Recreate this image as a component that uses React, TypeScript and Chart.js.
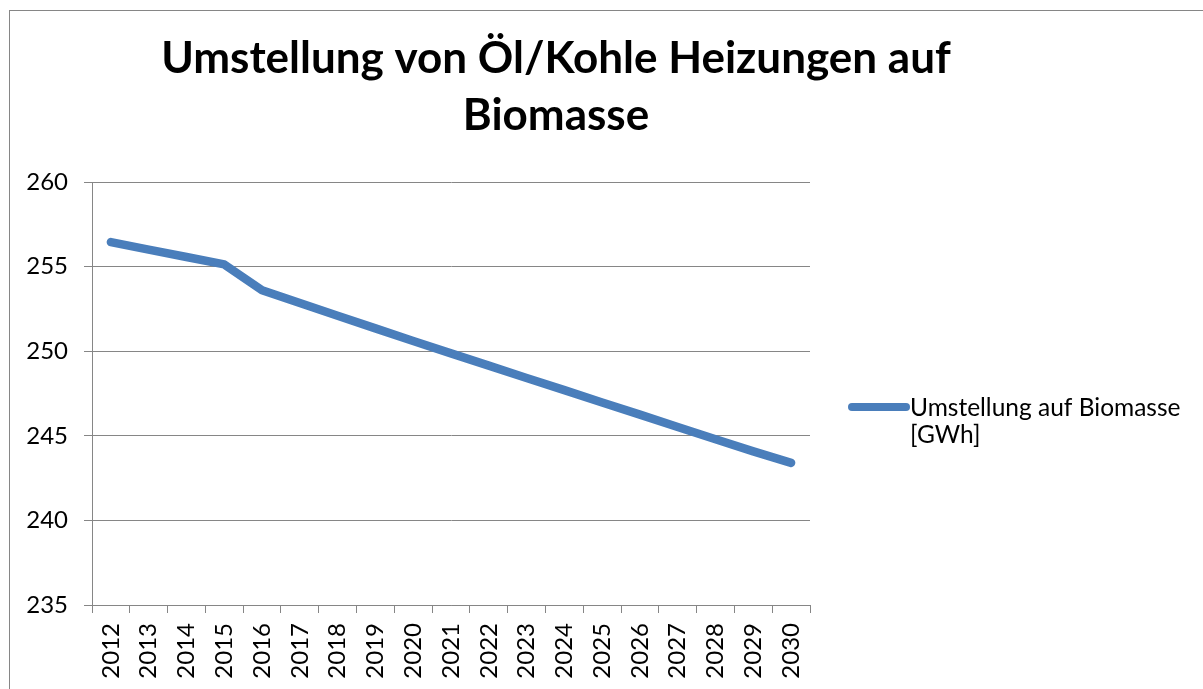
import React, { useEffect, useRef } from "react";
import { Chart, registerables } from "chart.js";

Chart.register(...registerables);

const titleLines = ["Umstellung von Öl/Kohle Heizungen auf", "Biomasse"];
const years = ["2012", "2013", "2014", "2015", "2016", "2017", "2018", "2019", "2020", "2021", "2022", "2023", "2024", "2025", "2026", "2027", "2028", "2029", "2030"];
const seriesLabel = "Umstellung auf Biomasse [GWh]";
const legendLines = ["Umstellung auf Biomasse", "[GWh]"];
const biomasse = [256.45, 256.0, 255.57, 255.13, 253.6, 252.85, 252.1, 251.35, 250.6, 249.87, 249.15, 248.42, 247.7, 246.97, 246.25, 245.52, 244.8, 244.08, 243.4];
const yMin = 235;
const yMax = 260;
const yStep = 5;

const FONT = "Lato";
const LINE_COLOR = "#4A7EBB";
const GRID_COLOR = "#868686";

const overlayPlugin = {
  id: "overlay",
  afterDraw(chart: any) {
    const ctx = chart.ctx;
    ctx.save();
    ctx.fillStyle = "#000";
    ctx.textAlign = "center";
    ctx.textBaseline = "alphabetic";
    ctx.font = `bold 44px ${FONT}`;
    ctx.fillText(titleLines[0], 556, 73);
    ctx.fillText(titleLines[1], 556, 130);

    // legend
    const ds = chart.data.datasets[0];
    ctx.strokeStyle = ds.borderColor;
    ctx.lineWidth = 8;
    ctx.lineCap = "round";
    ctx.beginPath();
    ctx.moveTo(852, 407);
    ctx.lineTo(906, 407);
    ctx.stroke();
    ctx.textAlign = "left";
    ctx.font = `24.5px ${FONT}`;
    ctx.fillText(legendLines[0], 910, 416);
    ctx.fillText(legendLines[1], 910, 443);
    ctx.restore();
  },
};

export default function App() {
  const ref = useRef<HTMLCanvasElement | null>(null);
  useEffect(() => {
    if (!ref.current) return;
    const chart = new Chart(ref.current, {
      type: "line",
      data: {
        labels: years,
        datasets: [
          {
            label: seriesLabel,
            data: biomasse,
            borderColor: LINE_COLOR,
            backgroundColor: LINE_COLOR,
            borderWidth: 8.5,
            borderCapStyle: "round",
            borderJoinStyle: "round",
            pointRadius: 0,
            tension: 0,
            fill: false,
          },
        ],
      },
      options: {
        animation: false,
        responsive: false,
        maintainAspectRatio: false,
        layout: { padding: { top: 182, right: 393, left: 0, bottom: 0 } },
        plugins: {
          legend: { display: false },
          title: { display: false },
          tooltip: { enabled: false },
        },
        scales: {
          x: {
            type: "category",
            offset: true,
            afterFit: (s: any) => {
              s.height = 84;
            },
            grid: {
              offset: true,
              drawOnChartArea: false,
              drawTicks: true,
              tickLength: 8,
              color: GRID_COLOR,
            },
            border: { display: true, color: GRID_COLOR, width: 1 },
            ticks: {
              autoSkip: false,
              minRotation: 90,
              maxRotation: 90,
              padding: 10,
              color: "#000",
              font: { family: FONT, size: 24 },
            },
          },
          y: {
            min: yMin,
            max: yMax,
            afterFit: (s: any) => {
              s.width = 92;
            },
            grid: {
              color: GRID_COLOR,
              drawTicks: true,
              tickLength: 8,
            },
            border: { display: true, color: GRID_COLOR, width: 1 },
            ticks: {
              stepSize: yStep,
              padding: 16,
              color: "#000",
              font: { family: FONT, size: 24 },
            },
          },
        },
      },
      plugins: [overlayPlugin],
    });
    return () => chart.destroy();
  }, []);

  return (
    <div style={{ position: "fixed", left: 0, top: 0, width: 1203, height: 689, background: "#fff", overflow: "hidden" }}>
      <div
        style={{
          position: "absolute",
          left: 9,
          top: 10,
          width: 1300,
          height: 800,
          border: `1.5px solid ${GRID_COLOR}`,
          boxSizing: "border-box",
        }}
      />
      <canvas ref={ref} width={1203} height={689} style={{ position: "absolute", left: 0, top: 0, width: 1203, height: 689 }} />
    </div>
  );
}
